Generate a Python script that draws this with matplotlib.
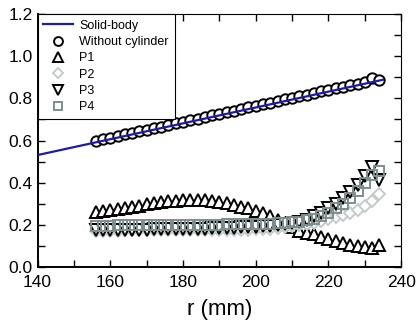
import numpy as np
import matplotlib
matplotlib.use('Agg')
from matplotlib import pyplot as plt
from matplotlib.ticker import MultipleLocator

plt.rcParams['font.family'] = ['Liberation Sans', 'DejaVu Sans']

# radial positions of the measurements (mm)
r = [156, 158, 160, 162, 164, 166, 168, 170, 172, 174,
     176, 178, 180, 182, 184, 186, 188, 190, 192, 194,
     196, 198, 200, 202, 204, 206, 208, 210, 212, 214,
     216, 218, 220, 222, 224, 226, 228, 230, 232, 234]

# solid-body reference line
r_line = [140, 235]
solid_body = [0.531, 0.888]

without_cyl = [0.598, 0.607, 0.614, 0.622, 0.629, 0.636, 0.644, 0.652, 0.659, 0.666,
               0.674, 0.681, 0.689, 0.696, 0.704, 0.711, 0.719, 0.727, 0.734, 0.742,
               0.749, 0.757, 0.764, 0.772, 0.780, 0.787, 0.795, 0.802, 0.810, 0.818,
               0.825, 0.833, 0.840, 0.848, 0.855, 0.863, 0.870, 0.878, 0.895, 0.887]

p1 = [0.262, 0.268, 0.272, 0.277, 0.282, 0.287, 0.290, 0.298, 0.303, 0.307,
      0.311, 0.313, 0.316, 0.318, 0.318, 0.316, 0.313, 0.308, 0.302, 0.295,
      0.287, 0.278, 0.268, 0.256, 0.240, 0.222, 0.205, 0.188, 0.172, 0.162,
      0.155, 0.145, 0.133, 0.122, 0.113, 0.105, 0.098, 0.094, 0.092, 0.104]

p2 = [0.172, 0.172, 0.173, 0.173, 0.174, 0.174, 0.174, 0.175, 0.175, 0.175,
      0.176, 0.176, 0.176, 0.177, 0.177, 0.177, 0.177, 0.178, 0.178, 0.178,
      0.178, 0.178, 0.179, 0.180, 0.182, 0.185, 0.190, 0.195, 0.200, 0.205,
      0.210, 0.218, 0.228, 0.236, 0.245, 0.255, 0.272, 0.290, 0.312, 0.345]

p3 = [0.175, 0.175, 0.176, 0.176, 0.177, 0.177, 0.178, 0.178, 0.179, 0.179,
      0.180, 0.180, 0.181, 0.182, 0.182, 0.183, 0.184, 0.185, 0.186, 0.187,
      0.188, 0.189, 0.190, 0.193, 0.196, 0.200, 0.204, 0.208, 0.214, 0.222,
      0.240, 0.258, 0.278, 0.300, 0.328, 0.358, 0.390, 0.432, 0.476, 0.413]

p4 = [0.197, 0.197, 0.197, 0.198, 0.198, 0.198, 0.198, 0.199, 0.199, 0.199,
      0.199, 0.200, 0.200, 0.200, 0.200, 0.201, 0.201, 0.201, 0.202, 0.202,
      0.203, 0.203, 0.204, 0.205, 0.206, 0.208, 0.210, 0.212, 0.216, 0.222,
      0.230, 0.242, 0.258, 0.278, 0.300, 0.328, 0.360, 0.398, 0.436, 0.455]

fig = plt.figure(figsize=(4.19, 3.31), dpi=100)
ax = fig.add_axes([0.0895, 0.193, 0.868, 0.765])

mew = 1.4
ax.plot(r, without_cyl, 'o', ms=7.5, mfc='white', mec='black', mew=mew,
        label='Without cylinder', zorder=3)
ax.plot(r, p1, '^', ms=8, mfc='white', mec='black', mew=mew, label='P1', zorder=3)
ax.plot(r, p2, 'D', ms=6.3, mfc='white', mec='#c3cbcb', mew=mew, label='P2', zorder=3)
ax.plot(r, p3, 'v', ms=8, mfc='white', mec='black', mew=mew, label='P3', zorder=3)
ax.plot(r, p4, 's', ms=7, mfc='none', mec='#7e8e8e', mew=mew, label='P4', zorder=4)
line, = ax.plot(r_line, solid_body, color='#1c1ca8', lw=1.6, label='Solid-body', zorder=5)

ax.set_xlim(140, 240)
ax.set_ylim(0, 1.2)
ax.xaxis.set_major_locator(MultipleLocator(20))
ax.xaxis.set_minor_locator(MultipleLocator(10))
ax.yaxis.set_major_locator(MultipleLocator(0.2))
ax.yaxis.set_minor_locator(MultipleLocator(0.1))
ax.yaxis.set_major_formatter(plt.FormatStrFormatter('%.1f'))
ax.tick_params(which='both', direction='in', top=True, right=True,
               labelsize=12.5, width=1, length=5)
ax.tick_params(axis='x', pad=6)

for side in ['left', 'bottom']:
    ax.spines[side].set_linewidth(1.4)
for side in ['top', 'right']:
    ax.spines[side].set_linewidth(0.8)

ax.set_xlabel('r (mm)', fontsize=16, labelpad=6)

handles, labels = ax.get_legend_handles_labels()
handles = [handles[-1]] + handles[:-1]
labels = [labels[-1]] + labels[:-1]
leg = ax.legend(handles, labels, loc='upper left', fontsize=9, frameon=True,
                fancybox=False, edgecolor='black', framealpha=1, borderaxespad=0,
                handlelength=2.4, labelspacing=0.35, borderpad=0.45,
                handletextpad=0.5, markerscale=0.85)
leg.get_frame().set_linewidth(0.8)

fig.savefig('out.png', dpi=100)
